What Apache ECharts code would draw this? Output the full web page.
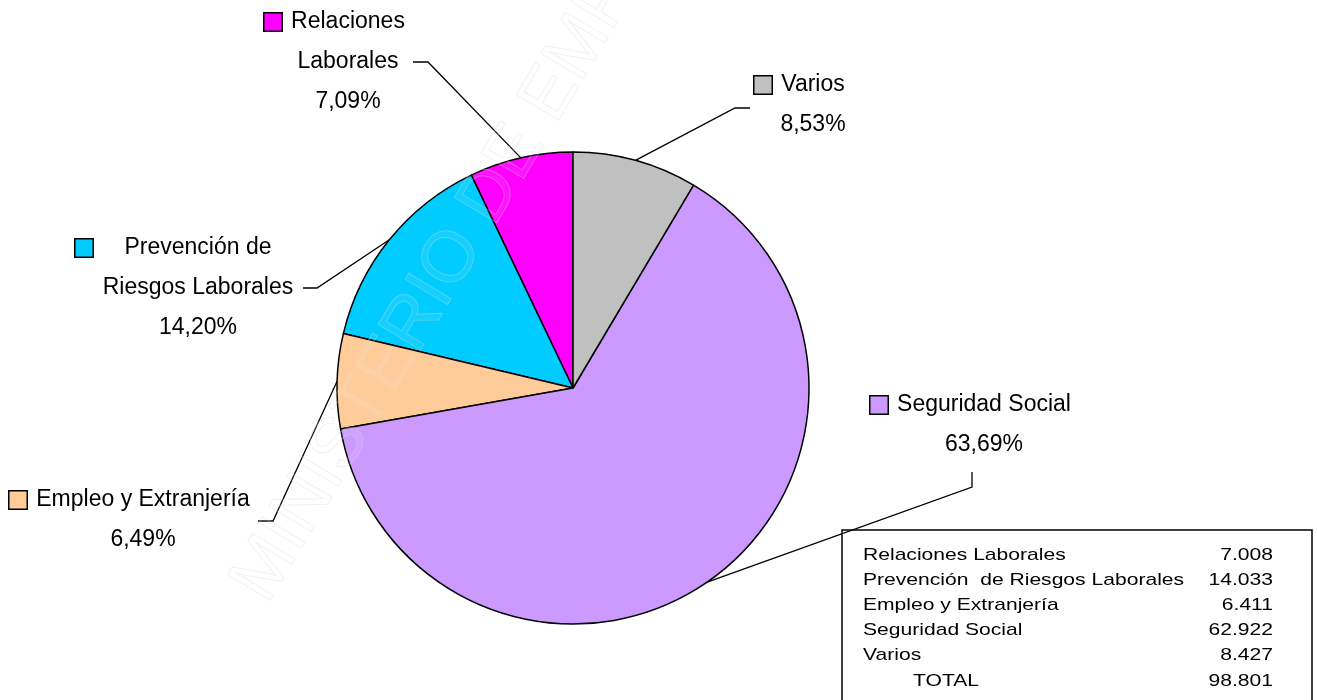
<!DOCTYPE html>
<html>
<head>
<meta charset="utf-8">
<script src="https://cdn.jsdelivr.net/npm/echarts@6/dist/echarts.min.js"></script>
<style>
html, body { margin: 0; padding: 0; background: #fff; }
#chart { width: 1317px; height: 700px; }
</style>
</head>
<body>
<div id="chart"></div>
<script>
// datos por materia
const categories = ['Relaciones Laborales', 'Prevención  de Riesgos Laborales', 'Empleo y Extranjería', 'Seguridad Social', 'Varios']
const sliceLabels = ['Relaciones\nLaborales', 'Prevención de\nRiesgos Laborales', 'Empleo y Extranjería', 'Seguridad Social', 'Varios']
const values = [7008, 14033, 6411, 62922, 8427]
const colors = ['#FF00FF', '#00CCFF', '#FFCC99', '#CC99FF', '#C0C0C0']

// colocación de etiquetas y líneas guía (como en el original)
const labelPlace = [
  { x: 348, y: 62, w: 117, elbow: [428, 62], end: [413, 62] },
  { x: 198, y: 288, w: 195, elbow: [317, 288], end: [303, 288] },
  { x: 143, y: 520, w: 217, elbow: [273, 521], end: [258, 521] },
  { x: 984, y: 425, w: 177, elbow: [972, 487], end: [972, 472] },
  { x: 813, y: 105, w: 67, elbow: [735, 108], end: [750, 108] }
]

const FONT = '"Liberation Sans", Arial, sans-serif'
const total = values.reduce((s, v) => s + v, 0)
const fmtNum = v => String(v).replace(/\B(?=(\d{3})+(?!\d))/g, '.')

const SQ = 17
const GAP = 8
const rich = {
  g: { width: GAP, height: SQ, align: 'center', lineHeight: 40 },
  sp: { width: SQ + GAP, height: SQ, align: 'center', lineHeight: 40 },
  n: { fontFamily: FONT, fontSize: 23, color: '#000', align: 'center', lineHeight: 40 }
}
colors.forEach((c, i) => {
  rich['sq' + i] = { width: SQ, height: SQ, backgroundColor: c, borderColor: '#000', borderWidth: 1.5, align: 'center', lineHeight: 40 }
  rich['t' + i] = { width: labelPlace[i].w, fontFamily: FONT, fontSize: 23, color: '#000', align: 'center', lineHeight: 40 }
})

const chart = echarts.init(document.getElementById('chart'))

// tabla de valores
const tableGraphics = [{
  type: 'rect',
  shape: { x: 842, y: 530, width: 470, height: 180 },
  style: { fill: 'none', stroke: '#000', lineWidth: 1.5 },
  z: 1
}]
const rowY = [555, 580, 605, 630, 655]
categories.forEach((c, i) => {
  tableGraphics.push({
    type: 'text', x: 863, y: rowY[i], scaleX: 1.24, z: 10,
    style: { text: c, font: '17px ' + FONT, fill: '#000', textAlign: 'left', textVerticalAlign: 'middle' }
  })
  tableGraphics.push({
    type: 'text', x: 1273, y: rowY[i], scaleX: 1.24, z: 10,
    style: { text: fmtNum(values[i]), font: '17px ' + FONT, fill: '#000', textAlign: 'right', textVerticalAlign: 'middle' }
  })
})
tableGraphics.push({
  type: 'text', x: 913, y: 681, scaleX: 1.24, z: 10,
  style: { text: 'TOTAL', font: '17px ' + FONT, fill: '#000', textAlign: 'left', textVerticalAlign: 'middle' }
})
tableGraphics.push({
  type: 'text', x: 1273, y: 681, scaleX: 1.24, z: 10,
  style: { text: fmtNum(total), font: '17px ' + FONT, fill: '#000', textAlign: 'right', textVerticalAlign: 'middle' }
})

// marca de agua
tableGraphics.push({
  type: 'text', x: 250, y: 595, rotation: 59 * Math.PI / 180, z: 100, silent: true,
  style: {
    text: 'MINISTERIO DE EMPLEO Y SEGURIDAD SOCIAL',
    font: '72px ' + FONT,
    fill: 'rgba(255,255,255,0.08)',
    stroke: 'rgba(215,215,215,0.35)',
    lineWidth: 1,
    textAlign: 'left',
    textVerticalAlign: 'middle'
  }
})

chart.setOption({
  animation: false,
  backgroundColor: '#fff',
  graphic: tableGraphics,
  series: [{
    type: 'pie',
    center: [573, 388],
    radius: 236,
    startAngle: 90,
    clockwise: false,
    avoidLabelOverlap: false,
    emphasis: { disabled: true },
    itemStyle: { borderColor: '#000', borderWidth: 1.5 },
    label: {
      show: true,
      position: 'outside',
      fontFamily: FONT,
      fontSize: 23,
      color: '#000',
      lineHeight: 40,
      formatter: p => {
        const i = p.dataIndex
        const lines = sliceLabels[i].split('\n')
        const pct = p.percent.toFixed(2).replace('.', ',')
        const out = ['{sq' + i + '|}{g|}{t' + i + '|' + lines[0] + '}{sp|}']
        lines.slice(1).forEach(l => out.push('{n|' + l + '}'))
        out.push('{n|' + pct + '%}')
        return out.join('\n')
      },
      rich: rich
    },
    labelLine: {
      show: true,
      length: 20,
      length2: 15,
      lineStyle: { color: '#000', width: 1.3 }
    },
    labelLayout: params => {
      const lp = labelPlace[params.dataIndex]
      const pts = params.labelLinePoints
      const res = { x: lp.x, y: lp.y, align: 'center', verticalAlign: 'middle' }
      if (pts) res.labelLinePoints = [pts[0], lp.elbow, lp.end]
      return res
    },
    data: categories.map((c, i) => ({
      name: c,
      value: values[i],
      itemStyle: { color: colors[i] }
    }))
  }]
})
</script>
</body>
</html>
